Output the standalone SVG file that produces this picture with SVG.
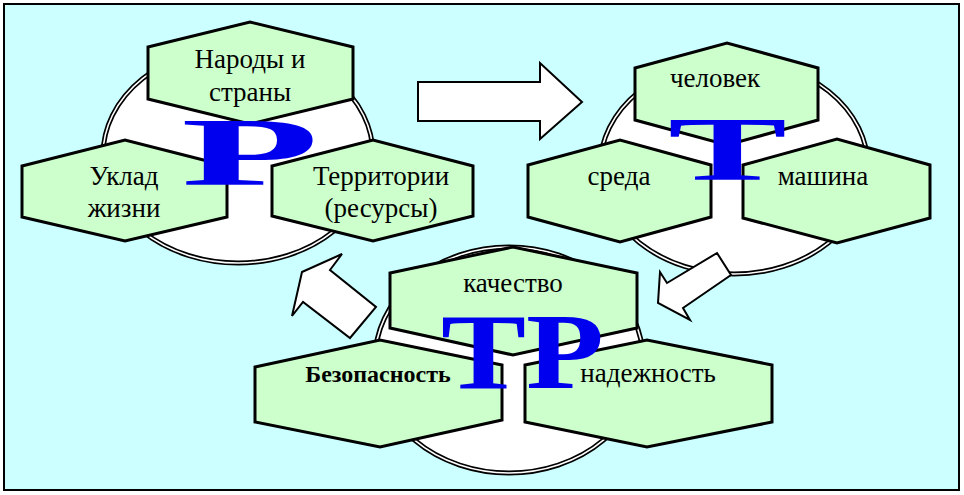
<svg xmlns="http://www.w3.org/2000/svg" width="964" height="495" viewBox="0 0 964 495">
<style>
.hex{fill:#CCFFCC;stroke:#000;stroke-width:3;stroke-linejoin:miter}
.ringo{fill:#fff;stroke:#000;stroke-width:5}
.ringi{fill:none;stroke:#fff;stroke-width:1.6}
.arr{fill:#fff;stroke:#000;stroke-width:2;stroke-linejoin:miter}
.t{font-family:"Liberation Serif","Times New Roman",serif;font-size:27px;fill:#000;text-anchor:middle}
.b{font-weight:bold;font-size:24px}
.big{font-family:"Liberation Serif","Times New Roman",serif;font-weight:bold;fill:#0000EE}
</style>
<rect x="4" y="4" width="955" height="486" fill="#CCFFFF" stroke="#000" stroke-width="2"/>

<g id="cluster-R">
<ellipse class="ringo" cx="238" cy="155" rx="135" ry="108"/>
<ellipse class="ringi" cx="238" cy="155" rx="135" ry="108"/>
</g>
<g id="cluster-T">
<ellipse class="ringo" cx="734" cy="167" rx="134" ry="107"/>
<ellipse class="ringi" cx="734" cy="167" rx="134" ry="107"/>
</g>
<g id="cluster-TR">
<ellipse class="ringo" cx="509" cy="360" rx="134" ry="113"/>
<ellipse class="ringi" cx="509" cy="360" rx="134" ry="113"/>
</g>

<g id="narody">
<polygon class="hex" points="148,47 250,22 353,47 353,99 250,124 148,99"/>
<text class="t" x="250" y="68">Народы и</text>
<text class="t" x="250" y="101">страны</text>
</g>
<g id="uklad">
<polygon class="hex" points="22,166 125,140 227,166 227,217 125,241 22,217"/>
<text class="t" x="124" y="185">Уклад</text>
<text class="t" x="124" y="217">жизни</text>
</g>
<g id="territorii">
<polygon class="hex" points="272,166 373,140 473,166 473,216 373,241 272,216"/>
<text class="t" x="381" y="185">Территории</text>
<text class="t" x="381" y="217">(ресурсы)</text>
</g>

<g id="chelovek">
<polygon class="hex" points="635,68 727,43 818,68 818,120 727,145 635,120"/>
<text class="t" x="715" y="87">человек</text>
</g>
<g id="sreda">
<polygon class="hex" points="528,165 620,140 711,165 711,217 620,242 528,217"/>
<text class="t" x="619" y="185">среда</text>
</g>
<g id="mashina">
<polygon class="hex" points="743,165 837,139 930,165 930,218 837,243 743,218"/>
<text class="t" x="823" y="185">машина</text>
</g>

<g id="kachestvo">
<polygon class="hex" points="390,273 513,247 637,273 637,328 513,355 390,328"/>
<text class="t" x="513" y="292">качество</text>
</g>
<g id="bezopasnost">
<polygon class="hex" points="255,367 380,340 502,365 502,420 380,447 255,422"/>
<text class="t b" x="378" y="382">Безопасность</text>
</g>
<g id="nadezhnost">
<polygon class="hex" points="525,365 647,340 772,365 772,422 647,447 525,422"/>
<text class="t" x="648" y="382">надежность</text>
</g>

<g id="letters">
<text class="big" x="181" y="185" font-size="98" textLength="138" lengthAdjust="spacingAndGlyphs">Р</text>
<text class="big" x="668" y="180" font-size="91" textLength="119" lengthAdjust="spacingAndGlyphs">Т</text>
<text class="big" x="441" y="388" font-size="108" textLength="163" lengthAdjust="spacingAndGlyphs">ТР</text>
</g>

<g id="connectors">
<polygon class="arr" points="418,82 540,82 540,63 582,102 540,139 540,121 418,121"/>
<polygon class="arr" points="717,253 731,275 683,308 690,320 658,303 660,272 667,283"/>
<polygon class="arr" points="302,272 342,254 330,270 376,307 350,338 303,302 292,316"/>
</g>
</svg>
